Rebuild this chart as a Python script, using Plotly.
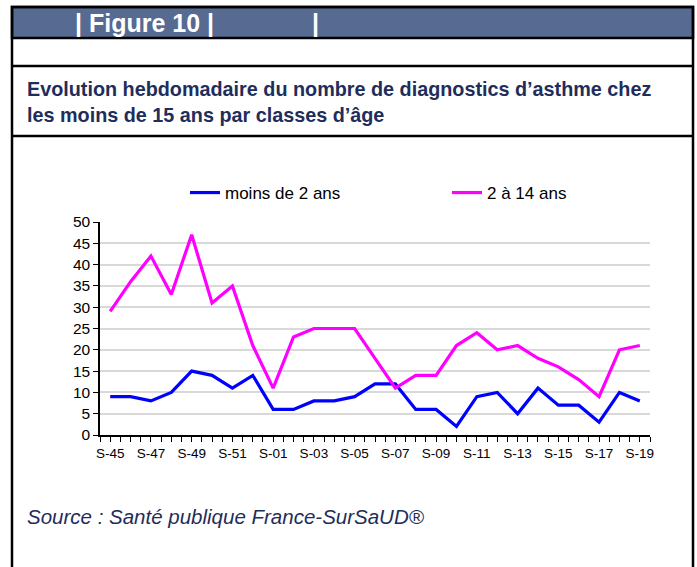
import plotly.graph_objects as go

# semaines S-45 (2019) -> S-19 (2020)
weeks = ["S-45", "S-46", "S-47", "S-48", "S-49", "S-50", "S-51", "S-52",
         "S-01", "S-02", "S-03", "S-04", "S-05", "S-06", "S-07", "S-08",
         "S-09", "S-10", "S-11", "S-12", "S-13", "S-14", "S-15", "S-16",
         "S-17", "S-18", "S-19"]
moins_2_ans = [9, 9, 8, 10, 15, 14, 11, 14, 6, 6, 8, 8, 9, 12, 12, 6,
               6, 2, 9, 10, 5, 11, 7, 7, 3, 10, 8]
de_2_a_14_ans = [29, 36, 42, 33, 47, 31, 35, 21, 11, 23, 25, 25, 25, 18, 11, 14,
                 14, 21, 24, 20, 21, 18, 16, 13, 9, 20, 21]
y_ticks = [0, 5, 10, 15, 20, 25, 30, 35, 40, 45, 50]

W, H = 697, 567
# plot area in page pixels
L, R, T, B = 100, 650, 222, 435
FONT = "Liberation Sans, Arial, sans-serif"
NAVY = "#1f2d5a"


def px(x):
    return (x - L) / (R - L)


def py(y):
    return (B - y) / (B - T)


idx = list(range(len(weeks)))

fig = go.Figure()
fig.add_trace(go.Scatter(x=idx, y=moins_2_ans, mode="lines", name="moins de 2 ans",
                         line=dict(color="#0000ff", width=3.2), legend="legend"))
fig.add_trace(go.Scatter(x=idx, y=de_2_a_14_ans, mode="lines", name="2 à 14 ans",
                         line=dict(color="#ff00ff", width=3.2), legend="legend2"))

# ticks every half category, label every other week
tickvals = [i / 2 for i in range(-1, 2 * len(weeks))]
ticktext = []
for v in tickvals:
    if v == int(v) and int(v) % 2 == 0:
        ticktext.append(weeks[int(v)])
    else:
        ticktext.append("")

fig.update_xaxes(range=[-0.5, len(weeks) - 0.5], tickmode="array",
                 tickvals=tickvals, ticktext=ticktext,
                 showline=True, linecolor="black", linewidth=1.5,
                 ticks="outside", ticklen=5, tickwidth=1.2, tickcolor="black",
                 showgrid=False, zeroline=False,
                 tickfont=dict(family=FONT, size=13.5, color="black"))
fig.update_yaxes(range=[0, 50], tickmode="array", tickvals=y_ticks,
                 showline=True, linecolor="black", linewidth=1.5,
                 ticks="outside", ticklen=5, tickwidth=1.2, tickcolor="black",
                 showgrid=True, gridcolor="#d9d9d9", gridwidth=1.5, zeroline=False,
                 tickfont=dict(family=FONT, size=15.5, color="black"))

frame = dict(color="black", width=2.5)
shapes = [
    # header bar
    dict(type="rect", xref="paper", yref="paper", x0=px(12), x1=px(693),
         y0=py(7), y1=py(38), fillcolor="#566a92", line=frame, layer="below"),
    # outer frame
    dict(type="rect", xref="paper", yref="paper", x0=px(12), x1=px(693),
         y0=py(7), y1=py(600), line=frame, layer="below"),
    dict(type="line", xref="paper", yref="paper", x0=px(12), x1=px(693),
         y0=py(66), y1=py(66), line=frame),
    dict(type="line", xref="paper", yref="paper", x0=px(12), x1=px(693),
         y0=py(136), y1=py(136), line=frame),
]

annotations = [
    dict(text="<b>| Figure 10 |</b>", x=px(73), y=py(23), xref="paper", yref="paper",
         xanchor="left", yanchor="middle", showarrow=False,
         font=dict(family=FONT, size=25, color="white")),
    dict(text="<b>|</b>", x=px(310), y=py(23), xref="paper", yref="paper",
         xanchor="left", yanchor="middle", showarrow=False,
         font=dict(family=FONT, size=25, color="white")),
    dict(text="<b>Evolution hebdomadaire du nombre de diagnostics d’asthme chez<br>"
              "les moins de 15 ans par classes d’âge</b>",
         x=px(25), y=py(102), xref="paper", yref="paper", align="left",
         xanchor="left", yanchor="middle", showarrow=False,
         font=dict(family=FONT, size=19.8, color=NAVY)),
    dict(text="<i>Source : Santé publique France-SurSaUD®</i>",
         x=px(25), y=py(516), xref="paper", yref="paper",
         xanchor="left", yanchor="middle", showarrow=False,
         font=dict(family=FONT, size=20.5, color=NAVY)),
]

legend_font = dict(family=FONT, size=17, color="black")
fig.update_layout(
    width=W, height=H,
    margin=dict(l=L, r=W - R, t=T, b=H - B),
    paper_bgcolor="white", plot_bgcolor="white",
    showlegend=True,
    legend=dict(orientation="h", x=px(185), y=py(193), xanchor="left", yanchor="middle",
                font=legend_font, bgcolor="rgba(0,0,0,0)"),
    legend2=dict(orientation="h", x=px(447), y=py(193), xanchor="left", yanchor="middle",
                 font=legend_font, bgcolor="rgba(0,0,0,0)"),
    shapes=shapes,
    annotations=annotations,
)

# drop the browser's default body margin so the figure sits at the page origin
fig.write_html("out.html", config={"displayModeBar": False},
               post_script="document.body.style.margin = '0';")
